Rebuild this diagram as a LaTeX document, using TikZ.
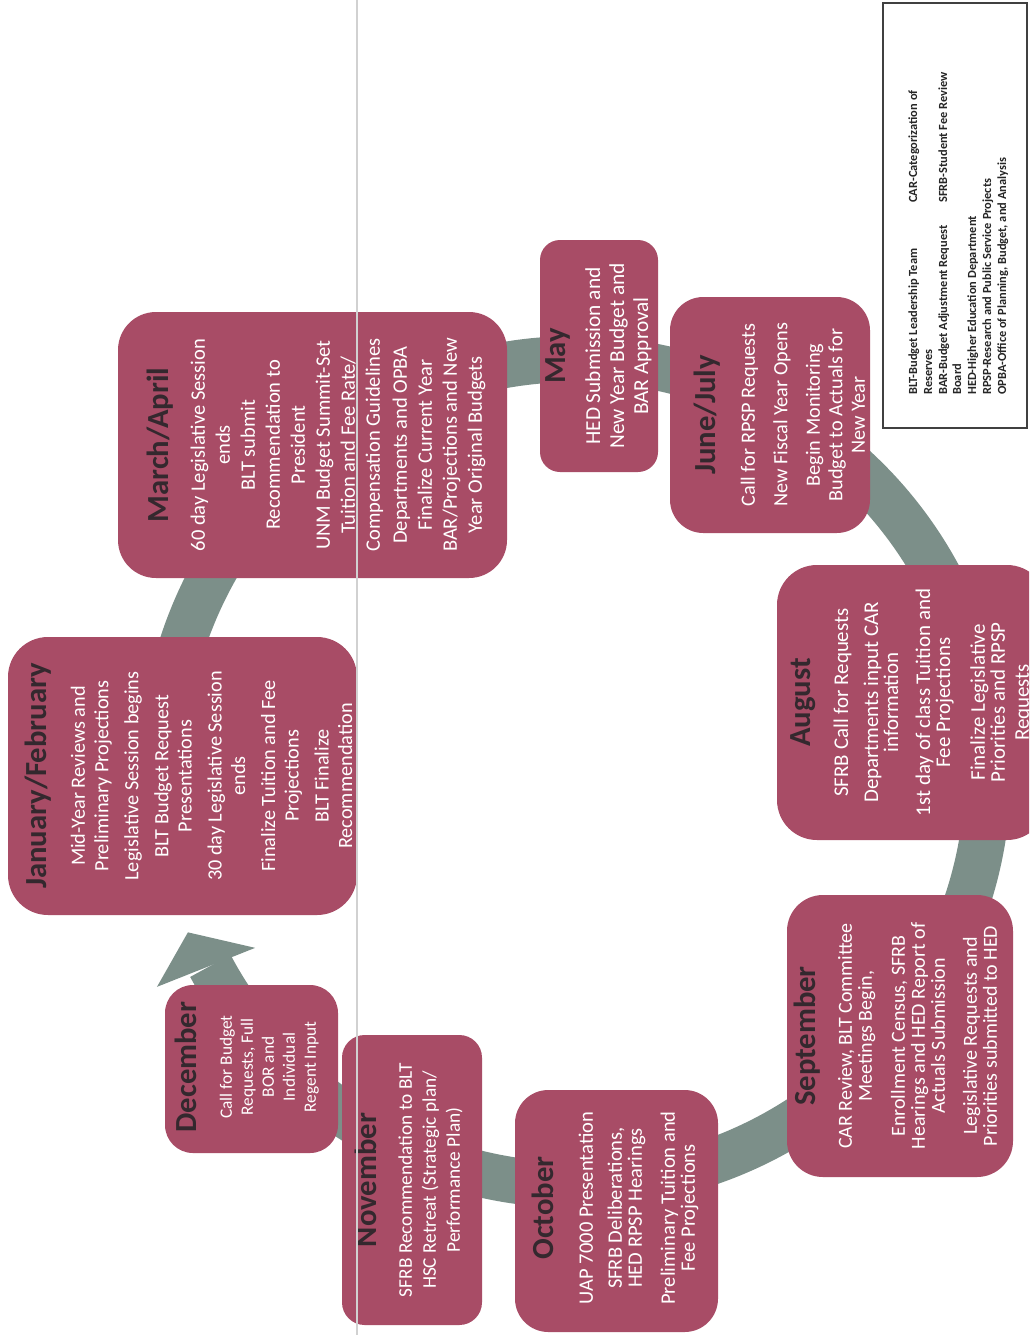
\documentclass[tikz,border=0pt]{standalone}
\usepackage{fontspec}
\setmainfont{Carlito}
\definecolor{boxpink}{RGB}{168,76,102}
\definecolor{ringgrey}{RGB}{124,143,137}
\definecolor{titlecol}{RGB}{52,40,46}
\newcommand\monthtitle[1]{{\fontsize{23pt}{27pt}\selectfont\bfseries\color{titlecol}#1}}
\begin{document}
\begin{tikzpicture}[x=0.75pt,y=-0.75pt,
  mbox/.style={rectangle, fill=boxpink, inner sep=0pt},
  mtext/.style={rotate=90, anchor=north, align=center, text=white, inner sep=0pt},
  legtext/.style={rotate=90, anchor=base west, inner sep=0pt, font=\fontsize{9.3pt}{11.25pt}\selectfont\bfseries, text=black!85},
  ring/.style={ringgrey, line width=34.5pt},
  scanline/.style={black!18, line width=1.2pt}
]
\path[use as bounding box] (0,0) rectangle (1029,1335);
\clip (0,0) rectangle (1029,1335);
\fill[white] (0,0) rectangle (1029,1335);

% grey cycle band with arrowhead
\draw[ring] plot[domain=175:512, samples=160, smooth] ({575+413*cos(\x)},{772+413*sin(\x)});
\fill[ringgrey] ({575+365*cos(151.2)},{772+365*sin(151.2)}) -- ({575+470*cos(152.8)},{772+470*sin(152.8)}) -- ({575+419*cos(157.5)},{772+419*sin(157.5)}) -- cycle;

% boxes
\node[mbox, minimum width=261.75pt, minimum height=208.5pt, rounded corners=30pt] (jan) at (182.5,776) {};
\node[mbox, minimum width=291.75pt, minimum height=199.5pt, rounded corners=28.5pt] (mar) at (312.5,445) {};
\node[mbox, minimum width=88.5pt, minimum height=174pt, rounded corners=15pt] (may) at (599,356) {};
\node[mbox, minimum width=150pt, minimum height=177pt, rounded corners=25pt] (jun) at (770,415) {};
\node[mbox, minimum width=202.5pt, minimum height=206.25pt, rounded corners=30pt] (aug) at (912,702.5) {};
\node[mbox, minimum width=169.5pt, minimum height=211.5pt, rounded corners=27pt] (sep) at (900,1036) {};
\node[mbox, minimum width=152.25pt, minimum height=181.5pt, rounded corners=25pt] (oct) at (616.5,1211) {};
\node[mbox, minimum width=105pt, minimum height=217.5pt, rounded corners=17pt] (nov) at (412,1180) {};
\node[mbox, minimum width=129.75pt, minimum height=126pt, rounded corners=21pt] (dec) at (251.5,1069) {};

% texts
\node[mtext, font=\fontsize{15.2pt}{17.6pt}\selectfont] (jant) at (25,776) {\monthtitle{January/February}\\[10.9pt]
Mid-Year Reviews and\\ Preliminary Projections\\[4.9pt]
Legislative Session begins\\[4.9pt]
BLT Budget Request\\ Presentations\\[4.9pt]
30 day Legislative Session\\ ends\\[4.9pt]
Finalize Tuition and Fee\\ Projections\\[4.9pt]
BLT Finalize\\ Recommendation};

\node[mtext, font=\fontsize{15.4pt}{18.75pt}\selectfont] (mart) at (147,445) {\monthtitle{March/April}\\[8.25pt]
60 day Legislative Session\\ ends\\
BLT submit\\ Recommendation to\\ President\\
UNM Budget Summit-Set\\ Tuition and Fee Rate/\\ Compensation Guidelines\\[1.5pt]
Departments and OPBA\\ Finalize Current Year\\ BAR/Projections and New\\ Year Original Budgets};

\node[mtext, font=\fontsize{16pt}{18pt}\selectfont] (mayt) at (545,356) {\monthtitle{May}\\[8.25pt]
HED Submission and\\ New Year Budget and\\ BAR Approval};

\node[mtext, font=\fontsize{15.2pt}{16.9pt}\selectfont] (junt) at (694,415) {\monthtitle{June/July}\\[12.4pt]
Call for RPSP Requests\\[7.5pt]
New Fiscal Year Opens\\[7.5pt]
Begin Monitoring\\ Budget to Actuals for\\ New Year};

\node[mtext, font=\fontsize{15.7pt}{15pt}\selectfont] (augt) at (790,702.5) {\monthtitle{August}\\[13.5pt]
SFRB Call for Requests\\[7.5pt]
Departments input CAR\\ information\\[9pt]
1st day of class Tuition and\\ Fee Projections\\[11pt]
Finalize Legislative\\ Priorities and RPSP\\[3pt] Requests};

\node[mtext, font=\fontsize{15pt}{15pt}\selectfont] (sept) at (794,1036) {\monthtitle{September}\\[12pt]
CAR Review, BLT Committee\\ Meetings Begin,\\[9.75pt]
Enrollment Census, SFRB\\ Hearings and HED Report of\\ Actuals Submission\\[9pt]
Legislative Requests and\\ Priorities submitted to HED};

\node[mtext, font=\fontsize{15.4pt}{15pt}\selectfont] (octt) at (532,1208) {\monthtitle{October}\\[14.25pt]
UAP 7000 Presentation\\[6.75pt]
SFRB Deliberations,\\ HED RPSP Hearings\\[9.75pt]
Preliminary Tuition and\\ Fee Projections};

\node[mtext, font=\fontsize{14.5pt}{18pt}\selectfont] (novt) at (355,1180) {\monthtitle{November}\\[8.25pt]
SFRB Recommendation to BLT\\
HSC Retreat (Strategic plan/\\ Performance Plan)};

\node[mtext, font=\fontsize{13pt}{15.75pt}\selectfont] (dect) at (175,1067) {\monthtitle{December}\\[10.5pt]
Call for Budget\\ Requests, Full\\ BOR and\\ Individual\\ Regent Input};

% scan fold line
\coordinate (scantop) at (357,0);
\coordinate (scanbot) at (357,1335);
\draw[scanline] (scantop) -- (scanbot);

% legend
\node[draw=black!75, line width=1.1pt, minimum width=108pt, minimum height=318.75pt, inner sep=0pt] (legend) at (955,215.5) {};
\node[legtext] (lg1) at (917,395) {BLT-Budget Leadership Team};
\node[legtext] (lg1b) at (917,203) {CAR-Categorization of};
\node[legtext] (lg2) at (932,395) {Reserves};
\node[legtext] (lg3) at (947,395) {BAR-Budget Adjustment Request};
\node[legtext] (lg3b) at (947,203) {SFRB-Student Fee Review};
\node[legtext] (lg4) at (961,395) {Board};
\node[legtext] (lg5) at (976,395) {HED-Higher Education Department};
\node[legtext] (lg6) at (991,395) {RPSP-Research and Public Service Projects};
\node[legtext] (lg7) at (1006,395) {OPBA-Office of Planning, Budget, and Analysis};
\end{tikzpicture}
\end{document}
